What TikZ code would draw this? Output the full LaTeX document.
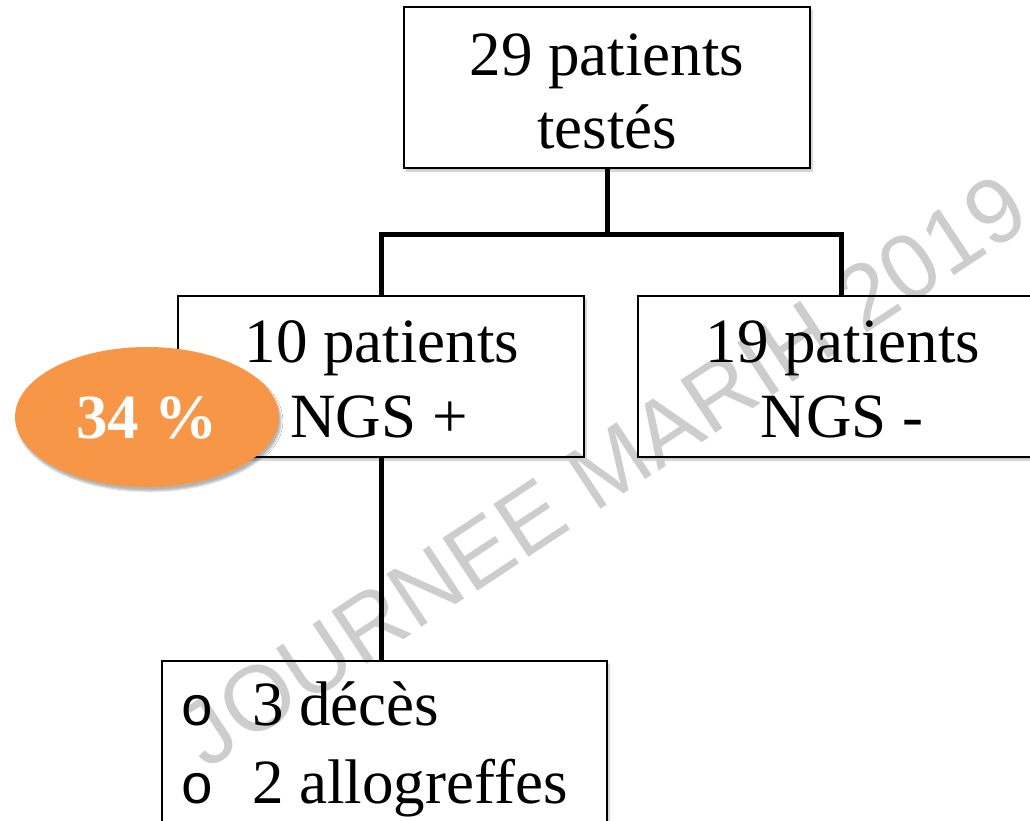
\documentclass[tikz,border=0pt]{standalone}
\usepackage{fontspec}
\setmainfont{Liberation Serif}
\newfontfamily\wmfont{Liberation Sans}
\newfontfamily\bulfont{Liberation Mono}
\usetikzlibrary{shapes.geometric,shadows.blur}
\definecolor{accorange}{RGB}{247,150,70}
\definecolor{wmgray}{RGB}{205,205,205}
\tikzset{
  box/.style={rectangle, inner sep=0pt, fill=white,
    blur shadow={shadow xshift=2pt, shadow yshift=-3pt, shadow opacity=25, shadow blur steps=6}},
  boxline/.style={draw=black, line width=2pt},
  big/.style={font=\fontsize{63}{73}\selectfont, inner sep=0pt, anchor=base},
  conn/.style={draw=black, line width=5pt},
  bullet/.style={font=\bulfont\fontsize{56}{60}\selectfont, inner sep=0pt, anchor=base},
}
\begin{document}
\begin{tikzpicture}[x=1pt,y=-1pt]
\useasboundingbox (0,0) rectangle (1030,820);
% boxes (white fill with soft shadow)
\node[box, minimum width=406pt, minimum height=161pt] (T) at (607,87.5) {};
\node[box, minimum width=406pt, minimum height=161pt] (L) at (381,376.5) {};
\node[box, minimum width=406pt, minimum height=161pt] (R) at (841,376.5) {};
\node[box, minimum width=445pt, minimum height=180pt] (B) at (384.5,751) {};
% watermark
\node[text=wmgray, font=\wmfont\fontsize{92}{100}\selectfont, rotate=33.5, inner sep=0pt] (wm) at (603,470) {JOURNEE MARIH 2019};
% box outlines
\foreach \b in {T,L,R,B}{
  \draw[boxline] (\b.south west) rectangle (\b.north east);
}
% texts
\node[big] (t1) at (607,75) {29 patients};
\node[big] (t2) at (607,148) {testés};
\node[big] (l1) at (382,362) {10 patients};
\node[big] (l2) at (379,437) {NGS +};
\node[big] (r1) at (843,362) {19 patients};
\node[big] (r2) at (842,437) {NGS -};
\node[bullet] (b1) at (197,725) {o};
\node[bullet] (b2) at (197,803) {o};
\node[big, anchor=base west] (bt1) at (252,725) {3 décès};
\node[big, anchor=base west] (bt2) at (252,803) {2 allogreffes};
% connectors
\coordinate (j) at (607,234);
\draw[conn] (T.south) -- (j);
\draw[conn] (L.north) |- (j) -| (R.north);
\draw[conn] (L.south) -- (L.south |- B.north);
% percentage
\node[ellipse, fill=accorange, minimum width=264pt, minimum height=140pt, inner sep=0pt,
  text=white, font=\bfseries\fontsize{63}{73}\selectfont, text height=43pt, text depth=0pt,
  blur shadow={shadow xshift=2pt, shadow yshift=-4pt, shadow opacity=30, shadow blur steps=6}] (pct) at (147,417) {34 \%};
\end{tikzpicture}
\end{document}
